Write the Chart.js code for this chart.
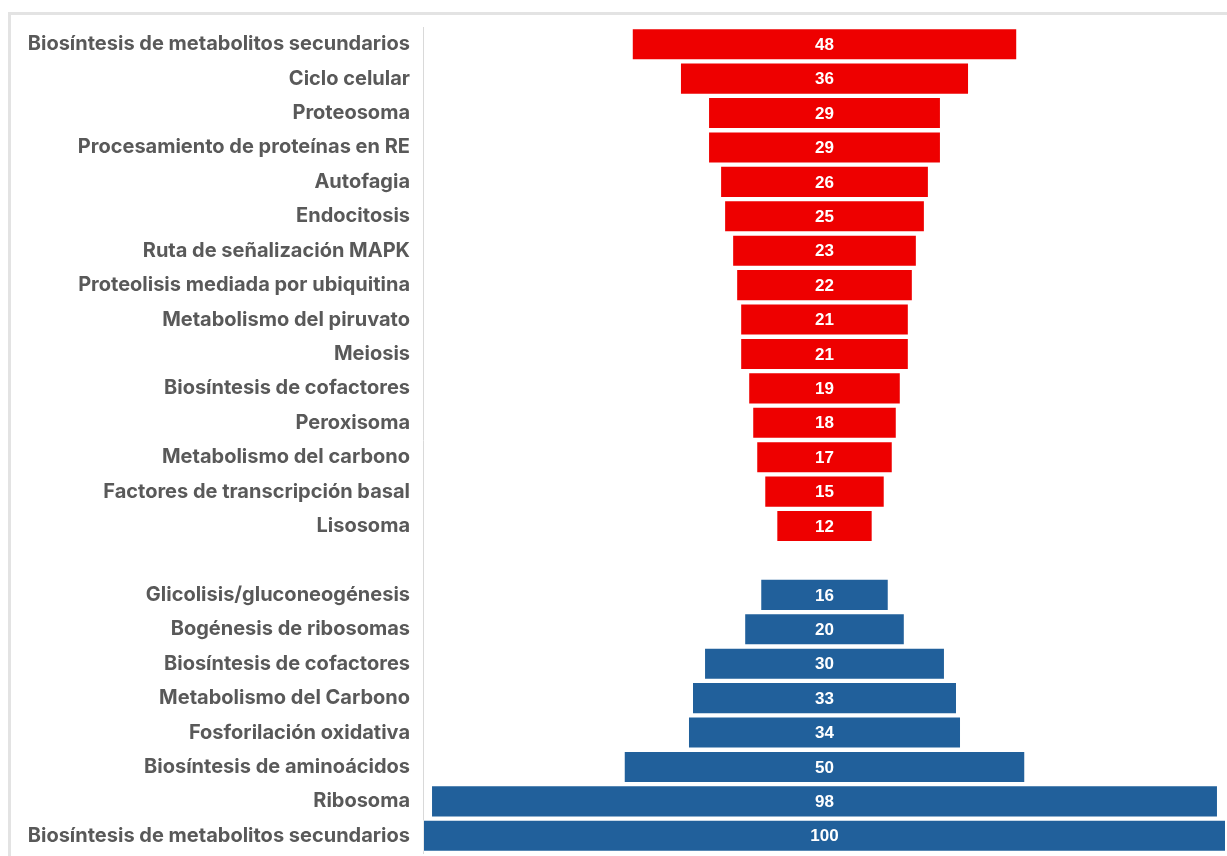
<!DOCTYPE html>
<html>
<head>
<meta charset="utf-8">
<script src="https://cdn.jsdelivr.net/npm/chart.js@4.4.1/dist/chart.umd.min.js"></script>
<style>
  html, body { margin: 0; padding: 0; background: #fff; }
  #wrap { position: relative; width: 1227px; height: 856px; overflow: hidden; }
  #frame {
    position: absolute; left: 8px; top: 12px; width: 1300px; height: 900px;
    border-top: 3px solid #e3e3e3; border-left: 3px solid #e3e3e3;
  }
  #myChart { position: absolute; left: 0; top: 0; }
</style>
</head>
<body>
<div id="wrap">
  <div id="frame"></div>
  <canvas id="myChart" width="1227" height="878"></canvas>
</div>
<script>
// up-regulated pathways (red)
const gRedLabels = [
  'Biosíntesis de metabolitos secundarios',
  'Ciclo celular',
  'Proteosoma',
  'Procesamiento de proteínas en RE',
  'Autofagia',
  'Endocitosis',
  'Ruta de señalización MAPK',
  'Proteolisis mediada por ubiquitina',
  'Metabolismo del piruvato',
  'Meiosis',
  'Biosíntesis de cofactores',
  'Peroxisoma',
  'Metabolismo del carbono',
  'Factores de transcripción basal',
  'Lisosoma'
]
const gRedValues = [48, 36, 29, 29, 26, 25, 23, 22, 21, 21, 19, 18, 17, 15, 12]

// down-regulated pathways (blue)
const gBlueLabels = [
  'Glicolisis/gluconeogénesis',
  'Bogénesis de ribosomas',
  'Biosíntesis de cofactores',
  'Metabolismo del Carbono',
  'Fosforilación oxidativa',
  'Biosíntesis de aminoácidos',
  'Ribosoma',
  'Biosíntesis de metabolitos secundarios'
]
const gBlueValues = [16, 20, 30, 33, 34, 50, 98, 100]

const gRedColor = '#EE0000'
const gBlueColor = '#21609B'

// build combined category list with an empty gap row between groups
const gLabels = [...gRedLabels, '', ...gBlueLabels]
const gRedData = [...gRedValues.map(v => [-v / 2, v / 2]), null, ...gBlueValues.map(() => null)]
const gBlueData = [...gRedValues.map(() => null), null, ...gBlueValues.map(v => [-v / 2, v / 2])]

const barValueLabels = {
  id: 'barValueLabels',
  afterDatasetsDraw(chart) {
    const ctx = chart.ctx
    ctx.save()
    ctx.fillStyle = '#ffffff'
    ctx.font = 'bold 17px "Liberation Sans", Arial, sans-serif'
    ctx.textAlign = 'center'
    ctx.textBaseline = 'middle'
    chart.data.datasets.forEach((ds, i) => {
      const meta = chart.getDatasetMeta(i)
      meta.data.forEach((bar, j) => {
        const raw = ds.data[j]
        if (!raw) return
        const value = Math.round(raw[1] - raw[0])
        ctx.fillText(String(value), (bar.x + bar.base) / 2, bar.y + 1)
      })
    })
    ctx.restore()
  }
}

function displayChart() {
  const ctx = document.getElementById('myChart').getContext('2d')
  new Chart(ctx, {
    type: 'bar',
    data: {
      labels: gLabels,
      datasets: [
        {
          label: 'Rojo',
          data: gRedData,
          backgroundColor: gRedColor,
          borderColor: 'rgba(255,255,255,0.45)',
          borderWidth: 1,
          borderSkipped: false
        },
        {
          label: 'Azul',
          data: gBlueData,
          backgroundColor: gBlueColor,
          borderColor: 'rgba(255,255,255,0.45)',
          borderWidth: 1,
          borderSkipped: false
        }
      ]
    },
    options: {
      responsive: false,
      animation: false,
      indexAxis: 'y',
      grouped: false,
      barPercentage: 0.93,
      categoryPercentage: 1,
      layout: { padding: { top: 27, bottom: 0, right: 1, left: 0 } },
      scales: {
        x: {
          display: false,
          min: -50,
          max: 50
        },
        y: {
          grid: { display: false, drawTicks: false },
          border: { display: true, color: '#d9d9d9', width: 1 },
          ticks: {
            color: '#595959',
            padding: 13,
            autoSkip: false,
            font: { family: 'Inter', size: 20, weight: 'bold' }
          },
          afterFit(scale) { scale.width = 423 }
        }
      },
      plugins: {
        legend: { display: false },
        tooltip: { enabled: false }
      }
    },
    plugins: [barValueLabels]
  })
}

displayChart()
</script>
</body>
</html>
